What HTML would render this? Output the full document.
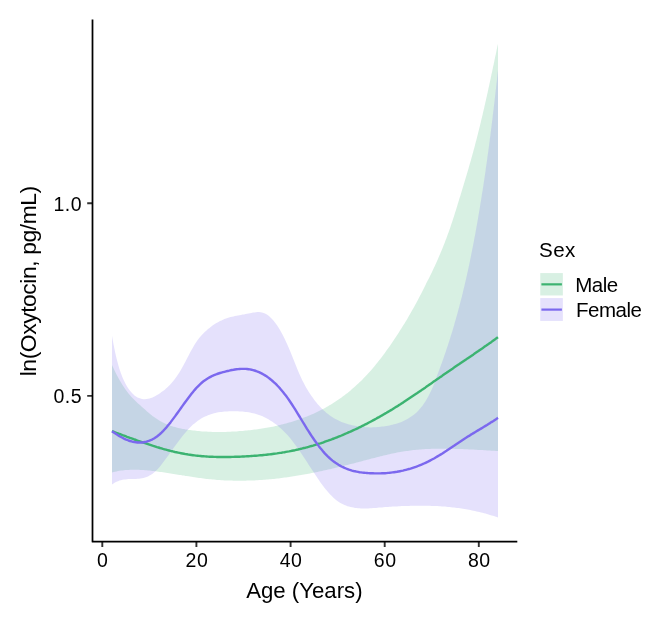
<!DOCTYPE html>
<html><head><meta charset="utf-8"><title>Oxytocin by age and sex</title>
<style>
html,body{margin:0;padding:0;background:#fff;}
body{width:667px;height:619px;overflow:hidden;font-family:"Liberation Sans",sans-serif;}
svg{display:block;}
text{font-family:"Liberation Sans",sans-serif;fill:#000;}
.tick{font-size:19.5px;letter-spacing:0.5px;}
.title{font-size:22.2px;letter-spacing:0px;}
.leg{font-size:20.5px;letter-spacing:-0.45px;}
.legt{font-size:20.6px;letter-spacing:0.4px;}
</style></head><body>
<svg style="will-change:transform" width="667" height="619" viewBox="0 0 667 619">
<rect width="667" height="619" fill="#fff"/>
<!-- ribbons -->
<path d="M112.0,365.1 L113.5,368.3 L115.0,371.4 L116.5,374.4 L118.0,377.2 L119.5,379.9 L121.0,382.5 L122.5,384.9 L124.0,387.2 L125.5,389.4 L127.0,391.5 L128.5,393.4 L130.0,395.3 L131.5,397.0 L133.0,398.6 L134.5,400.1 L136.0,401.5 L137.5,402.9 L139.0,404.3 L140.5,405.6 L142.0,406.9 L143.5,408.2 L145.0,409.6 L146.5,410.9 L148.0,412.2 L149.5,413.5 L151.0,414.7 L152.5,415.9 L154.0,417.0 L155.5,418.1 L157.0,419.1 L158.5,420.0 L160.0,420.9 L161.5,421.8 L163.0,422.5 L164.5,423.3 L166.0,423.9 L167.5,424.6 L169.0,425.2 L170.5,425.7 L172.0,426.2 L173.5,426.7 L175.0,427.1 L176.5,427.5 L178.0,427.9 L179.5,428.2 L181.0,428.6 L182.5,428.9 L184.0,429.1 L185.5,429.4 L187.0,429.6 L188.5,429.9 L190.0,430.1 L191.5,430.3 L193.0,430.5 L194.5,430.6 L196.0,430.8 L197.5,431.0 L199.0,431.1 L200.5,431.2 L202.0,431.4 L203.5,431.5 L205.0,431.6 L206.5,431.6 L208.0,431.7 L209.5,431.8 L211.0,431.8 L212.5,431.9 L214.0,431.9 L215.5,431.9 L217.0,432.0 L218.5,432.0 L220.0,432.0 L221.5,432.0 L223.0,431.9 L224.5,431.9 L226.0,431.9 L227.5,431.8 L229.0,431.8 L230.5,431.7 L232.0,431.6 L233.5,431.5 L235.0,431.5 L236.5,431.4 L238.0,431.3 L239.5,431.1 L241.0,431.0 L242.5,430.9 L244.0,430.8 L245.5,430.6 L247.0,430.5 L248.5,430.3 L250.0,430.2 L251.5,430.0 L253.0,429.8 L254.5,429.6 L256.0,429.4 L257.5,429.2 L259.0,429.0 L260.5,428.8 L262.0,428.6 L263.5,428.3 L265.0,428.1 L266.5,427.8 L268.0,427.5 L269.5,427.3 L271.0,427.0 L272.5,426.7 L274.0,426.4 L275.5,426.0 L277.0,425.7 L278.5,425.3 L280.0,425.0 L281.5,424.6 L283.0,424.2 L284.5,423.8 L286.0,423.4 L287.5,423.0 L289.0,422.6 L290.5,422.2 L292.0,421.7 L293.5,421.2 L295.0,420.7 L296.5,420.3 L298.0,419.7 L299.5,419.2 L301.0,418.7 L302.5,418.1 L304.0,417.6 L305.5,417.0 L307.0,416.4 L308.5,415.8 L310.0,415.2 L311.5,414.5 L313.0,413.9 L314.5,413.2 L316.0,412.5 L317.5,411.8 L319.0,411.0 L320.5,410.3 L322.0,409.5 L323.5,408.7 L325.0,407.9 L326.5,407.1 L328.0,406.2 L329.5,405.3 L331.0,404.4 L332.5,403.5 L334.0,402.6 L335.5,401.6 L337.0,400.6 L338.5,399.6 L340.0,398.5 L341.5,397.5 L343.0,396.3 L344.5,395.2 L346.0,394.1 L347.5,392.9 L349.0,391.7 L350.5,390.4 L352.0,389.1 L353.5,387.8 L355.0,386.5 L356.5,385.1 L358.0,383.7 L359.5,382.3 L361.0,380.9 L362.5,379.4 L364.0,377.8 L365.5,376.3 L367.0,374.7 L368.5,373.0 L370.0,371.4 L371.5,369.7 L373.0,367.9 L374.5,366.2 L376.0,364.3 L377.5,362.5 L379.0,360.6 L380.5,358.7 L382.0,356.7 L383.5,354.7 L385.0,352.7 L386.5,350.6 L388.0,348.5 L389.5,346.4 L391.0,344.2 L392.5,342.0 L394.0,339.8 L395.5,337.6 L397.0,335.3 L398.5,332.9 L400.0,330.6 L401.5,328.2 L403.0,325.8 L404.5,323.4 L406.0,320.9 L407.5,318.4 L409.0,315.8 L410.5,313.2 L412.0,310.6 L413.5,307.9 L415.0,305.2 L416.5,302.5 L418.0,299.7 L419.5,296.8 L421.0,293.9 L422.5,291.0 L424.0,288.0 L425.5,284.9 L427.0,281.8 L429.0,278.2 L429.9,276.2 L430.9,274.2 L431.9,272.2 L432.8,270.2 L433.7,268.2 L434.7,266.2 L435.6,264.2 L436.5,262.2 L437.4,260.2 L438.3,258.2 L439.1,256.2 L440.0,254.2 L440.8,252.2 L441.7,250.2 L442.5,248.2 L443.3,246.2 L444.1,244.2 L444.9,242.2 L445.6,240.2 L446.4,238.2 L447.1,236.2 L447.8,234.2 L448.6,232.2 L449.3,230.2 L450.0,228.2 L450.7,226.2 L451.3,224.2 L452.0,222.2 L452.7,220.2 L453.3,218.2 L454.0,216.2 L454.6,214.2 L455.2,212.2 L455.9,210.2 L456.5,208.2 L457.1,206.2 L457.7,204.2 L458.3,202.2 L458.9,200.2 L459.5,198.2 L460.2,196.2 L460.8,194.2 L461.4,192.2 L462.0,190.2 L462.6,188.2 L463.2,186.2 L463.8,184.2 L464.4,182.2 L465.0,180.2 L465.6,178.2 L466.2,176.2 L466.8,174.2 L467.4,172.2 L468.0,170.2 L468.6,168.2 L469.1,166.2 L469.7,164.2 L470.3,162.2 L470.9,160.2 L471.4,158.2 L472.0,156.2 L472.5,154.2 L473.1,152.2 L473.6,150.2 L474.2,148.2 L474.7,146.2 L475.2,144.2 L475.7,142.2 L476.3,140.2 L476.8,138.2 L477.3,136.2 L477.8,134.2 L478.3,132.2 L478.8,130.2 L479.3,128.2 L479.8,126.2 L480.3,124.2 L480.8,122.2 L481.2,120.2 L481.7,118.2 L482.2,116.2 L482.7,114.2 L483.1,112.2 L483.6,110.2 L484.1,108.2 L484.5,106.2 L485.0,104.2 L485.4,102.2 L485.9,100.2 L486.3,98.2 L486.8,96.2 L487.2,94.2 L487.7,92.2 L488.1,90.2 L488.5,88.2 L489.0,86.2 L489.4,84.2 L489.8,82.2 L490.3,80.2 L490.7,78.2 L491.1,76.2 L491.5,74.2 L492.0,72.2 L492.4,70.2 L492.8,68.2 L493.2,66.2 L493.7,64.2 L494.1,62.2 L494.5,60.2 L494.9,58.2 L495.3,56.2 L495.8,54.2 L496.2,52.2 L496.6,50.2 L497.0,48.2 L497.4,46.2 L497.9,44.2 L498.0,43.6 L498.0,451.0 L497.5,451.0 L496.0,450.9 L494.5,450.8 L493.0,450.7 L491.5,450.7 L490.0,450.6 L488.5,450.5 L487.0,450.4 L485.5,450.3 L484.0,450.2 L482.5,450.1 L481.0,450.1 L479.5,450.0 L478.0,449.9 L476.5,449.8 L475.0,449.7 L473.5,449.6 L472.0,449.6 L470.5,449.5 L469.0,449.4 L467.5,449.3 L466.0,449.3 L464.5,449.2 L463.0,449.1 L461.5,449.1 L460.0,449.0 L458.5,449.0 L457.0,448.9 L455.5,448.9 L454.0,448.8 L452.5,448.8 L451.0,448.7 L449.5,448.7 L448.0,448.7 L446.5,448.7 L445.0,448.7 L443.5,448.7 L442.0,448.7 L440.5,448.7 L439.0,448.7 L437.5,448.7 L436.0,448.7 L434.5,448.8 L433.0,448.8 L431.5,448.8 L430.0,448.9 L428.5,449.0 L427.0,449.0 L425.5,449.1 L424.0,449.2 L422.5,449.3 L421.0,449.4 L419.5,449.5 L418.0,449.7 L416.5,449.8 L415.0,450.0 L413.5,450.1 L412.0,450.3 L410.5,450.5 L409.0,450.7 L407.5,450.9 L406.0,451.1 L404.5,451.3 L403.0,451.5 L401.5,451.8 L400.0,452.0 L398.5,452.3 L397.0,452.6 L395.5,452.9 L394.0,453.2 L392.5,453.5 L391.0,453.8 L389.5,454.2 L388.0,454.5 L386.5,454.9 L385.0,455.2 L383.5,455.6 L382.0,456.0 L380.5,456.3 L379.0,456.7 L377.5,457.1 L376.0,457.5 L374.5,457.9 L373.0,458.3 L371.5,458.6 L370.0,459.0 L368.5,459.4 L367.0,459.8 L365.5,460.2 L364.0,460.6 L362.5,461.0 L361.0,461.4 L359.5,461.8 L358.0,462.2 L356.5,462.6 L355.0,463.0 L353.5,463.4 L352.0,463.7 L350.5,464.1 L349.0,464.5 L347.5,464.9 L346.0,465.3 L344.5,465.6 L343.0,466.0 L341.5,466.4 L340.0,466.7 L338.5,467.1 L337.0,467.5 L335.5,467.8 L334.0,468.2 L332.5,468.5 L331.0,468.9 L329.5,469.2 L328.0,469.6 L326.5,469.9 L325.0,470.3 L323.5,470.6 L322.0,470.9 L320.5,471.2 L319.0,471.6 L317.5,471.9 L316.0,472.2 L314.5,472.5 L313.0,472.8 L311.5,473.1 L310.0,473.4 L308.5,473.7 L307.0,474.0 L305.5,474.3 L304.0,474.5 L302.5,474.8 L301.0,475.1 L299.5,475.3 L298.0,475.6 L296.5,475.8 L295.0,476.1 L293.5,476.3 L292.0,476.5 L290.5,476.8 L289.0,477.0 L287.5,477.2 L286.0,477.4 L284.5,477.6 L283.0,477.8 L281.5,478.0 L280.0,478.2 L278.5,478.4 L277.0,478.5 L275.5,478.7 L274.0,478.9 L272.5,479.0 L271.0,479.2 L269.5,479.3 L268.0,479.4 L266.5,479.6 L265.0,479.7 L263.5,479.8 L262.0,479.9 L260.5,480.0 L259.0,480.1 L257.5,480.2 L256.0,480.3 L254.5,480.4 L253.0,480.4 L251.5,480.5 L250.0,480.5 L248.5,480.6 L247.0,480.6 L245.5,480.7 L244.0,480.7 L242.5,480.7 L241.0,480.7 L239.5,480.7 L238.0,480.7 L236.5,480.7 L235.0,480.7 L233.5,480.7 L232.0,480.6 L230.5,480.6 L229.0,480.5 L227.5,480.5 L226.0,480.4 L224.5,480.4 L223.0,480.3 L221.5,480.2 L220.0,480.1 L218.5,480.0 L217.0,479.9 L215.5,479.8 L214.0,479.6 L212.5,479.5 L211.0,479.3 L209.5,479.2 L208.0,479.0 L206.5,478.9 L205.0,478.7 L203.5,478.5 L202.0,478.3 L200.5,478.1 L199.0,477.9 L197.5,477.7 L196.0,477.5 L194.5,477.3 L193.0,477.0 L191.5,476.8 L190.0,476.6 L188.5,476.3 L187.0,476.1 L185.5,475.9 L184.0,475.6 L182.5,475.4 L181.0,475.1 L179.5,474.9 L178.0,474.7 L176.5,474.4 L175.0,474.2 L173.5,473.9 L172.0,473.7 L170.5,473.5 L169.0,473.2 L167.5,473.0 L166.0,472.8 L164.5,472.5 L163.0,472.3 L161.5,472.1 L160.0,471.9 L158.5,471.7 L157.0,471.5 L155.5,471.3 L154.0,471.1 L152.5,470.9 L151.0,470.8 L149.5,470.6 L148.0,470.4 L146.5,470.3 L145.0,470.2 L143.5,470.1 L142.0,470.0 L140.5,469.9 L139.0,469.8 L137.5,469.8 L136.0,469.7 L134.5,469.7 L133.0,469.7 L131.5,469.8 L130.0,469.8 L128.5,469.9 L127.0,470.0 L125.5,470.1 L124.0,470.2 L122.5,470.4 L121.0,470.6 L119.5,470.8 L118.0,471.1 L116.5,471.4 L115.0,471.7 L113.5,472.0 L112.0,472.4Z" fill="#3CB371" fill-opacity="0.2"/>
<path d="M112.0,335.8 L113.5,344.2 L115.0,351.7 L116.5,358.3 L118.0,364.1 L119.5,369.2 L121.0,373.6 L122.5,377.5 L124.0,380.8 L125.5,383.8 L127.0,386.4 L128.5,388.7 L130.0,390.7 L131.5,392.5 L133.0,394.1 L134.5,395.4 L136.0,396.5 L137.5,397.4 L139.0,398.1 L140.5,398.6 L142.0,399.0 L143.5,399.2 L145.0,399.2 L146.5,399.1 L148.0,398.8 L149.5,398.5 L151.0,398.0 L152.5,397.4 L154.0,396.7 L155.5,395.9 L157.0,395.1 L158.5,394.2 L160.0,393.2 L161.5,392.1 L163.0,391.0 L164.5,389.9 L166.0,388.6 L167.5,387.3 L169.0,385.8 L170.5,384.2 L172.0,382.6 L173.5,380.8 L175.0,378.8 L176.5,376.8 L178.0,374.6 L179.5,372.2 L181.0,369.7 L182.5,367.0 L184.0,364.3 L185.5,361.4 L187.0,358.6 L188.5,355.7 L190.0,352.8 L191.5,350.1 L193.0,347.4 L194.5,344.8 L196.0,342.4 L197.5,340.3 L199.0,338.3 L200.5,336.4 L202.0,334.8 L203.5,333.2 L205.0,331.8 L206.5,330.4 L208.0,329.1 L209.5,327.9 L211.0,326.7 L212.5,325.6 L214.0,324.6 L215.5,323.6 L217.0,322.7 L218.5,321.9 L220.0,321.1 L221.5,320.4 L223.0,319.7 L224.5,319.1 L226.0,318.5 L227.5,318.0 L229.0,317.5 L230.5,317.1 L232.0,316.7 L233.5,316.4 L235.0,316.0 L236.5,315.7 L238.0,315.4 L239.5,315.2 L241.0,314.9 L242.5,314.6 L244.0,314.4 L245.5,314.1 L247.0,313.8 L248.5,313.5 L250.0,313.2 L251.5,312.9 L253.0,312.6 L254.5,312.4 L256.0,312.2 L257.5,312.1 L259.0,312.1 L260.5,312.2 L262.0,312.4 L263.5,312.9 L265.0,313.5 L266.5,314.3 L268.0,315.3 L269.5,316.5 L271.0,317.9 L272.5,319.5 L274.0,321.2 L275.5,323.2 L277.0,325.3 L278.5,327.6 L280.0,330.1 L281.5,332.8 L283.0,335.6 L284.5,338.5 L286.0,341.7 L287.5,344.9 L289.0,348.4 L290.5,352.0 L292.0,355.7 L293.5,359.5 L295.0,363.3 L296.5,367.1 L298.0,370.8 L299.5,374.3 L301.0,377.6 L302.5,380.7 L304.0,383.6 L305.5,386.4 L307.0,389.0 L308.5,391.4 L310.0,393.8 L311.5,396.0 L313.0,398.1 L314.5,400.2 L316.0,402.1 L317.5,403.9 L319.0,405.6 L320.5,407.2 L322.0,408.8 L323.5,410.2 L325.0,411.6 L326.5,412.9 L328.0,414.1 L329.5,415.2 L331.0,416.3 L332.5,417.2 L334.0,418.2 L335.5,419.0 L337.0,419.8 L338.5,420.6 L340.0,421.2 L341.5,421.9 L343.0,422.5 L344.5,423.0 L346.0,423.5 L347.5,424.0 L349.0,424.4 L350.5,424.8 L352.0,425.2 L353.5,425.5 L355.0,425.8 L356.5,426.1 L358.0,426.4 L359.5,426.6 L361.0,426.8 L362.5,426.9 L364.0,427.1 L365.5,427.2 L367.0,427.3 L368.5,427.3 L370.0,427.4 L371.5,427.4 L373.0,427.3 L374.5,427.3 L376.0,427.2 L377.5,427.1 L379.0,427.0 L380.5,426.8 L382.0,426.6 L383.5,426.4 L385.0,426.2 L386.5,426.0 L388.0,425.7 L389.5,425.4 L391.0,425.1 L392.5,424.7 L394.0,424.3 L395.5,423.9 L397.0,423.5 L398.5,423.0 L400.0,422.5 L401.5,421.9 L403.0,421.2 L404.5,420.5 L406.0,419.8 L407.5,419.0 L409.0,418.1 L410.5,417.1 L412.0,416.1 L413.5,414.9 L415.0,413.7 L416.5,412.4 L418.0,410.9 L419.5,409.3 L421.0,407.6 L422.5,405.7 L424.0,403.6 L425.5,401.3 L427.0,398.8 L428.5,396.0 L430.0,393.1 L431.5,389.9 L433.0,386.5 L434.5,383.0 L436.0,379.3 L436.4,377.2 L437.2,375.2 L438.0,373.2 L438.7,371.2 L439.5,369.2 L440.2,367.2 L440.9,365.2 L441.7,363.2 L442.4,361.2 L443.1,359.2 L443.8,357.2 L444.5,355.2 L445.2,353.2 L445.9,351.2 L446.5,349.2 L447.2,347.2 L447.9,345.2 L448.5,343.2 L449.2,341.2 L449.8,339.2 L450.4,337.2 L451.0,335.2 L451.7,333.2 L452.3,331.2 L452.9,329.2 L453.5,327.2 L454.1,325.2 L454.6,323.2 L455.2,321.2 L455.8,319.2 L456.3,317.2 L456.9,315.2 L457.5,313.2 L458.0,311.2 L458.5,309.2 L459.1,307.2 L459.6,305.2 L460.1,303.2 L460.6,301.2 L461.2,299.2 L461.7,297.2 L462.2,295.2 L462.7,293.2 L463.1,291.2 L463.6,289.2 L464.1,287.2 L464.6,285.2 L465.0,283.2 L465.5,281.2 L466.0,279.2 L466.4,277.2 L466.9,275.2 L467.3,273.2 L467.8,271.2 L468.2,269.2 L468.6,267.2 L469.1,265.2 L469.5,263.2 L469.9,261.2 L470.3,259.2 L470.7,257.2 L471.1,255.2 L471.5,253.2 L471.9,251.2 L472.3,249.2 L472.7,247.2 L473.1,245.2 L473.5,243.2 L473.9,241.2 L474.2,239.2 L474.6,237.2 L475.0,235.2 L475.4,233.2 L475.7,231.2 L476.1,229.2 L476.4,227.2 L476.8,225.2 L477.2,223.2 L477.5,221.2 L477.9,219.2 L478.2,217.2 L478.5,215.2 L478.9,213.2 L479.2,211.2 L479.6,209.2 L479.9,207.2 L480.2,205.2 L480.5,203.2 L480.9,201.2 L481.2,199.2 L481.5,197.2 L481.8,195.2 L482.1,193.2 L482.5,191.2 L482.8,189.2 L483.1,187.2 L483.4,185.2 L483.7,183.2 L484.0,181.2 L484.3,179.2 L484.6,177.2 L484.9,175.2 L485.2,173.2 L485.5,171.2 L485.7,169.2 L486.0,167.2 L486.3,165.2 L486.6,163.2 L486.9,161.2 L487.2,159.2 L487.4,157.2 L487.7,155.2 L488.0,153.2 L488.3,151.2 L488.5,149.2 L488.8,147.2 L489.1,145.2 L489.3,143.2 L489.6,141.2 L489.8,139.2 L490.1,137.2 L490.4,135.2 L490.6,133.2 L490.9,131.2 L491.1,129.2 L491.4,127.2 L491.6,125.2 L491.9,123.2 L492.1,121.2 L492.4,119.2 L492.6,117.2 L492.8,115.2 L493.1,113.2 L493.3,111.2 L493.6,109.2 L493.8,107.2 L494.0,105.2 L494.3,103.2 L494.5,101.2 L494.7,99.2 L495.0,97.2 L495.2,95.2 L495.4,93.2 L495.6,91.2 L495.9,89.2 L496.1,87.2 L496.3,85.2 L496.5,83.2 L496.8,81.2 L497.0,79.2 L497.2,77.2 L497.4,75.2 L497.6,73.2 L497.9,71.2 L498.0,69.9 L498.0,517.5 L497.5,517.3 L496.0,516.8 L494.5,516.3 L493.0,515.8 L491.5,515.4 L490.0,514.9 L488.5,514.5 L487.0,514.0 L485.5,513.6 L484.0,513.2 L482.5,512.8 L481.0,512.4 L479.5,512.1 L478.0,511.7 L476.5,511.4 L475.0,511.0 L473.5,510.7 L472.0,510.4 L470.5,510.1 L469.0,509.8 L467.5,509.6 L466.0,509.3 L464.5,509.0 L463.0,508.8 L461.5,508.6 L460.0,508.3 L458.5,508.1 L457.0,507.9 L455.5,507.7 L454.0,507.5 L452.5,507.4 L451.0,507.2 L449.5,507.1 L448.0,506.9 L446.5,506.8 L445.0,506.6 L443.5,506.5 L442.0,506.4 L440.5,506.3 L439.0,506.2 L437.5,506.1 L436.0,506.1 L434.5,506.0 L433.0,505.9 L431.5,505.9 L430.0,505.8 L428.5,505.8 L427.0,505.8 L425.5,505.7 L424.0,505.7 L422.5,505.7 L421.0,505.7 L419.5,505.7 L418.0,505.7 L416.5,505.7 L415.0,505.7 L413.5,505.8 L412.0,505.8 L410.5,505.8 L409.0,505.9 L407.5,505.9 L406.0,506.0 L404.5,506.0 L403.0,506.1 L401.5,506.1 L400.0,506.2 L398.5,506.3 L397.0,506.4 L395.5,506.4 L394.0,506.5 L392.5,506.6 L391.0,506.7 L389.5,506.8 L388.0,506.9 L386.5,507.0 L385.0,507.1 L383.5,507.3 L382.0,507.4 L380.5,507.5 L379.0,507.6 L377.5,507.7 L376.0,507.9 L374.5,508.0 L373.0,508.1 L371.5,508.2 L370.0,508.3 L368.5,508.4 L367.0,508.4 L365.5,508.4 L364.0,508.5 L362.5,508.4 L361.0,508.4 L359.5,508.3 L358.0,508.2 L356.5,508.1 L355.0,507.9 L353.5,507.6 L352.0,507.3 L350.5,507.0 L349.0,506.6 L347.5,506.2 L346.0,505.6 L344.5,505.0 L343.0,504.3 L341.5,503.6 L340.0,502.7 L338.5,501.7 L337.0,500.7 L335.5,499.5 L334.0,498.2 L332.5,496.8 L331.0,495.3 L329.5,493.7 L328.0,492.0 L326.5,490.2 L325.0,488.4 L323.5,486.4 L322.0,484.4 L320.5,482.4 L319.0,480.2 L317.5,478.1 L316.0,475.8 L314.5,473.6 L313.0,471.3 L311.5,469.0 L310.0,466.7 L308.5,464.4 L307.0,462.1 L305.5,459.8 L304.0,457.5 L302.5,455.2 L301.0,452.9 L299.5,450.7 L298.0,448.5 L296.5,446.4 L295.0,444.4 L293.5,442.4 L292.0,440.4 L290.5,438.6 L289.0,436.8 L287.5,435.1 L286.0,433.5 L284.5,431.9 L283.0,430.4 L281.5,429.0 L280.0,427.7 L278.5,426.4 L277.0,425.1 L275.5,424.0 L274.0,422.9 L272.5,421.8 L271.0,420.9 L269.5,419.9 L268.0,419.1 L266.5,418.3 L265.0,417.5 L263.5,416.8 L262.0,416.1 L260.5,415.5 L259.0,415.0 L257.5,414.5 L256.0,414.0 L254.5,413.6 L253.0,413.2 L251.5,412.9 L250.0,412.6 L248.5,412.3 L247.0,412.1 L245.5,411.9 L244.0,411.7 L242.5,411.6 L241.0,411.5 L239.5,411.4 L238.0,411.3 L236.5,411.3 L235.0,411.3 L233.5,411.2 L232.0,411.3 L230.5,411.3 L229.0,411.3 L227.5,411.4 L226.0,411.5 L224.5,411.6 L223.0,411.7 L221.5,411.9 L220.0,412.1 L218.5,412.3 L217.0,412.6 L215.5,412.9 L214.0,413.3 L212.5,413.7 L211.0,414.2 L209.5,414.7 L208.0,415.2 L206.5,415.9 L205.0,416.6 L203.5,417.3 L202.0,418.1 L200.5,419.0 L199.0,420.0 L197.5,421.0 L196.0,422.2 L194.5,423.4 L193.0,424.6 L191.5,426.0 L190.0,427.5 L188.5,429.0 L187.0,430.7 L185.5,432.4 L184.0,434.2 L182.5,436.0 L181.0,438.0 L179.5,439.9 L178.0,441.9 L176.5,444.0 L175.0,446.0 L173.5,448.1 L172.0,450.2 L170.5,452.3 L169.0,454.4 L167.5,456.4 L166.0,458.5 L164.5,460.5 L163.0,462.5 L161.5,464.5 L160.0,466.4 L158.5,468.2 L157.0,469.8 L155.5,471.3 L154.0,472.6 L152.5,473.8 L151.0,474.8 L149.5,475.6 L148.0,476.4 L146.5,477.0 L145.0,477.5 L143.5,477.9 L142.0,478.2 L140.5,478.5 L139.0,478.7 L137.5,478.8 L136.0,478.9 L134.5,478.9 L133.0,479.0 L131.5,479.0 L130.0,479.1 L128.5,479.1 L127.0,479.2 L125.5,479.4 L124.0,479.6 L122.5,479.8 L121.0,480.2 L119.5,480.6 L118.0,481.2 L116.5,481.8 L115.0,482.6 L113.5,483.5 L112.0,484.6Z" fill="#7B68EE" fill-opacity="0.2"/>
<!-- lines -->
<path d="M112.0,431.2 L113.5,431.7 L115.0,432.3 L116.5,432.9 L118.0,433.4 L119.5,434.0 L121.0,434.5 L122.5,435.1 L124.0,435.6 L125.5,436.2 L127.0,436.8 L128.5,437.3 L130.0,437.9 L131.5,438.4 L133.0,438.9 L134.5,439.5 L136.0,440.0 L137.5,440.6 L139.0,441.1 L140.5,441.6 L142.0,442.1 L143.5,442.7 L145.0,443.2 L146.5,443.7 L148.0,444.2 L149.5,444.7 L151.0,445.2 L152.5,445.7 L154.0,446.1 L155.5,446.6 L157.0,447.1 L158.5,447.5 L160.0,448.0 L161.5,448.4 L163.0,448.9 L164.5,449.3 L166.0,449.7 L167.5,450.1 L169.0,450.5 L170.5,450.9 L172.0,451.2 L173.5,451.6 L175.0,452.0 L176.5,452.3 L178.0,452.6 L179.5,452.9 L181.0,453.2 L182.5,453.5 L184.0,453.8 L185.5,454.1 L187.0,454.3 L188.5,454.6 L190.0,454.8 L191.5,455.0 L193.0,455.2 L194.5,455.4 L196.0,455.6 L197.5,455.7 L199.0,455.9 L200.5,456.0 L202.0,456.2 L203.5,456.3 L205.0,456.4 L206.5,456.5 L208.0,456.6 L209.5,456.7 L211.0,456.7 L212.5,456.8 L214.0,456.9 L215.5,456.9 L217.0,457.0 L218.5,457.0 L220.0,457.0 L221.5,457.0 L223.0,457.0 L224.5,457.0 L226.0,457.0 L227.5,457.0 L229.0,457.0 L230.5,457.0 L232.0,456.9 L233.5,456.9 L235.0,456.8 L236.5,456.8 L238.0,456.7 L239.5,456.7 L241.0,456.6 L242.5,456.5 L244.0,456.5 L245.5,456.4 L247.0,456.3 L248.5,456.2 L250.0,456.1 L251.5,456.0 L253.0,455.9 L254.5,455.8 L256.0,455.7 L257.5,455.6 L259.0,455.4 L260.5,455.3 L262.0,455.2 L263.5,455.0 L265.0,454.9 L266.5,454.7 L268.0,454.5 L269.5,454.4 L271.0,454.2 L272.5,454.0 L274.0,453.8 L275.5,453.6 L277.0,453.4 L278.5,453.1 L280.0,452.9 L281.5,452.7 L283.0,452.4 L284.5,452.2 L286.0,451.9 L287.5,451.6 L289.0,451.4 L290.5,451.1 L292.0,450.8 L293.5,450.5 L295.0,450.2 L296.5,449.8 L298.0,449.5 L299.5,449.1 L301.0,448.8 L302.5,448.4 L304.0,448.0 L305.5,447.7 L307.0,447.3 L308.5,446.9 L310.0,446.4 L311.5,446.0 L313.0,445.6 L314.5,445.1 L316.0,444.7 L317.5,444.2 L319.0,443.7 L320.5,443.3 L322.0,442.8 L323.5,442.3 L325.0,441.7 L326.5,441.2 L328.0,440.7 L329.5,440.1 L331.0,439.6 L332.5,439.0 L334.0,438.5 L335.5,437.9 L337.0,437.3 L338.5,436.7 L340.0,436.1 L341.5,435.5 L343.0,434.8 L344.5,434.2 L346.0,433.5 L347.5,432.9 L349.0,432.2 L350.5,431.6 L352.0,430.9 L353.5,430.2 L355.0,429.5 L356.5,428.8 L358.0,428.1 L359.5,427.3 L361.0,426.6 L362.5,425.8 L364.0,425.1 L365.5,424.3 L367.0,423.6 L368.5,422.8 L370.0,422.0 L371.5,421.2 L373.0,420.4 L374.5,419.6 L376.0,418.8 L377.5,417.9 L379.0,417.1 L380.5,416.2 L382.0,415.4 L383.5,414.5 L385.0,413.6 L386.5,412.8 L388.0,411.9 L389.5,411.0 L391.0,410.1 L392.5,409.2 L394.0,408.2 L395.5,407.3 L397.0,406.4 L398.5,405.4 L400.0,404.5 L401.5,403.5 L403.0,402.6 L404.5,401.6 L406.0,400.6 L407.5,399.6 L409.0,398.6 L410.5,397.6 L412.0,396.6 L413.5,395.6 L415.0,394.6 L416.5,393.6 L418.0,392.5 L419.5,391.5 L421.0,390.5 L422.5,389.4 L424.0,388.4 L425.5,387.4 L427.0,386.3 L428.5,385.3 L430.0,384.2 L431.5,383.2 L433.0,382.1 L434.5,381.1 L436.0,380.0 L437.5,379.0 L439.0,378.0 L440.5,376.9 L442.0,375.9 L443.5,374.8 L445.0,373.8 L446.5,372.8 L448.0,371.7 L449.5,370.7 L451.0,369.7 L452.5,368.7 L454.0,367.6 L455.5,366.6 L457.0,365.6 L458.5,364.6 L460.0,363.5 L461.5,362.5 L463.0,361.5 L464.5,360.5 L466.0,359.5 L467.5,358.4 L469.0,357.4 L470.5,356.4 L472.0,355.4 L473.5,354.4 L475.0,353.3 L476.5,352.3 L478.0,351.3 L479.5,350.2 L481.0,349.2 L482.5,348.2 L484.0,347.1 L485.5,346.1 L487.0,345.0 L488.5,344.0 L490.0,342.9 L491.5,341.9 L493.0,340.8 L494.5,339.7 L496.0,338.6 L497.5,337.6 L498.0,337.2" fill="none" stroke="#3CB371" stroke-width="2.4" stroke-linejoin="round"/>
<path d="M112.0,431.2 L113.5,432.3 L115.0,433.3 L116.5,434.3 L118.0,435.2 L119.5,436.2 L121.0,437.0 L122.5,437.8 L124.0,438.6 L125.5,439.3 L127.0,439.9 L128.5,440.5 L130.0,441.0 L131.5,441.4 L133.0,441.8 L134.5,442.1 L136.0,442.3 L137.5,442.5 L139.0,442.5 L140.5,442.5 L142.0,442.5 L143.5,442.3 L145.0,442.0 L146.5,441.7 L148.0,441.2 L149.5,440.7 L151.0,440.0 L152.5,439.3 L154.0,438.5 L155.5,437.5 L157.0,436.5 L158.5,435.3 L160.0,434.0 L161.5,432.6 L163.0,431.1 L164.5,429.5 L166.0,427.9 L167.5,426.1 L169.0,424.3 L170.5,422.4 L172.0,420.4 L173.5,418.4 L175.0,416.4 L176.5,414.3 L178.0,412.2 L179.5,410.1 L181.0,408.0 L182.5,405.9 L184.0,403.8 L185.5,401.7 L187.0,399.7 L188.5,397.7 L190.0,395.7 L191.5,393.8 L193.0,391.9 L194.5,390.1 L196.0,388.4 L197.5,386.8 L199.0,385.3 L200.5,383.9 L202.0,382.5 L203.5,381.3 L205.0,380.2 L206.5,379.2 L208.0,378.2 L209.5,377.4 L211.0,376.6 L212.5,375.8 L214.0,375.2 L215.5,374.6 L217.0,374.0 L218.5,373.5 L220.0,373.0 L221.5,372.6 L223.0,372.2 L224.5,371.8 L226.0,371.4 L227.5,371.0 L229.0,370.7 L230.5,370.3 L232.0,370.0 L233.5,369.8 L235.0,369.5 L236.5,369.3 L238.0,369.1 L239.5,369.0 L241.0,368.9 L242.5,368.9 L244.0,368.9 L245.5,368.9 L247.0,369.0 L248.5,369.2 L250.0,369.4 L251.5,369.7 L253.0,370.1 L254.5,370.5 L256.0,371.0 L257.5,371.6 L259.0,372.2 L260.5,372.9 L262.0,373.6 L263.5,374.5 L265.0,375.4 L266.5,376.3 L268.0,377.4 L269.5,378.5 L271.0,379.7 L272.5,381.0 L274.0,382.3 L275.5,383.7 L277.0,385.2 L278.5,386.8 L280.0,388.4 L281.5,390.2 L283.0,392.0 L284.5,393.9 L286.0,395.8 L287.5,397.9 L289.0,400.0 L290.5,402.2 L292.0,404.5 L293.5,406.8 L295.0,409.2 L296.5,411.6 L298.0,414.1 L299.5,416.5 L301.0,419.0 L302.5,421.5 L304.0,423.9 L305.5,426.3 L307.0,428.8 L308.5,431.1 L310.0,433.5 L311.5,435.8 L313.0,438.0 L314.5,440.2 L316.0,442.3 L317.5,444.4 L319.0,446.4 L320.5,448.3 L322.0,450.1 L323.5,451.9 L325.0,453.6 L326.5,455.1 L328.0,456.6 L329.5,458.0 L331.0,459.3 L332.5,460.6 L334.0,461.7 L335.5,462.8 L337.0,463.8 L338.5,464.8 L340.0,465.6 L341.5,466.5 L343.0,467.2 L344.5,467.9 L346.0,468.5 L347.5,469.1 L349.0,469.7 L350.5,470.1 L352.0,470.6 L353.5,471.0 L355.0,471.3 L356.5,471.6 L358.0,471.9 L359.5,472.2 L361.0,472.4 L362.5,472.6 L364.0,472.7 L365.5,472.9 L367.0,473.0 L368.5,473.1 L370.0,473.2 L371.5,473.3 L373.0,473.3 L374.5,473.4 L376.0,473.4 L377.5,473.4 L379.0,473.4 L380.5,473.4 L382.0,473.3 L383.5,473.2 L385.0,473.2 L386.5,473.1 L388.0,472.9 L389.5,472.8 L391.0,472.6 L392.5,472.4 L394.0,472.2 L395.5,472.0 L397.0,471.8 L398.5,471.5 L400.0,471.2 L401.5,470.9 L403.0,470.6 L404.5,470.2 L406.0,469.8 L407.5,469.4 L409.0,469.0 L410.5,468.6 L412.0,468.1 L413.5,467.6 L415.0,467.1 L416.5,466.6 L418.0,466.0 L419.5,465.4 L421.0,464.8 L422.5,464.2 L424.0,463.5 L425.5,462.8 L427.0,462.1 L428.5,461.4 L430.0,460.6 L431.5,459.8 L433.0,459.0 L434.5,458.2 L436.0,457.3 L437.5,456.4 L439.0,455.5 L440.5,454.6 L442.0,453.7 L443.5,452.7 L445.0,451.7 L446.5,450.8 L448.0,449.8 L449.5,448.8 L451.0,447.8 L452.5,446.8 L454.0,445.8 L455.5,444.7 L457.0,443.7 L458.5,442.7 L460.0,441.7 L461.5,440.7 L463.0,439.7 L464.5,438.7 L466.0,437.8 L467.5,436.8 L469.0,435.9 L470.5,434.9 L472.0,434.0 L473.5,433.1 L475.0,432.2 L476.5,431.3 L478.0,430.4 L479.5,429.5 L481.0,428.6 L482.5,427.7 L484.0,426.8 L485.5,425.9 L487.0,425.0 L488.5,424.0 L490.0,423.1 L491.5,422.1 L493.0,421.2 L494.5,420.2 L496.0,419.2 L497.5,418.1 L498.0,417.8" fill="none" stroke="#7B68EE" stroke-width="2.4" stroke-linejoin="round"/>
<!-- axes -->
<g stroke="#333" stroke-width="1.9" fill="none">
<path d="M87.2,203.3 H92.5 M87.2,395.9 H92.5"/>
<path d="M102.3,541.6 V547 M196.4,541.6 V547 M290.6,541.6 V547 M384.7,541.6 V547 M478.8,541.6 V547"/>
</g>
<path d="M92.5,19.4 V541.65 H517.3" stroke="#000" stroke-width="1.75" fill="none" stroke-linejoin="round"/>
<!-- tick labels -->
<g class="tick" text-anchor="middle">
<text x="102.8" y="566.8">0</text>
<text x="196.9" y="566.8">20</text>
<text x="291.1" y="566.8">40</text>
<text x="385.2" y="566.8">60</text>
<text x="479.3" y="566.8">80</text>
</g>
<g class="tick" text-anchor="end">
<text x="82" y="210.7">1.0</text>
<text x="82" y="402.5">0.5</text>
</g>
<!-- axis titles -->
<text class="title" text-anchor="middle" x="304.4" y="597.7">Age (Years)</text>
<text class="title" style="font-size:22.8px;letter-spacing:-0.4px" text-anchor="middle" transform="translate(36.2,281.3) rotate(-90)">ln(Oxytocin, pg/mL)</text>
<!-- legend -->
<text class="legt" x="539.1" y="256.5">Sex</text>
<rect x="540.25" y="273.1" width="22.6" height="22.35" fill="#3CB371" fill-opacity="0.2"/>
<rect x="540.25" y="298.1" width="22.6" height="22.85" fill="#7B68EE" fill-opacity="0.2"/>
<path d="M541.4,284.35 H561.9" stroke="#3CB371" stroke-width="2.2"/>
<path d="M541.4,309.6 H561.9" stroke="#7B68EE" stroke-width="2.2"/>
<text class="leg" x="575.2" y="291.9">Male</text>
<text class="leg" x="575.9" y="316.7">Female</text>
</svg>
</body></html>
